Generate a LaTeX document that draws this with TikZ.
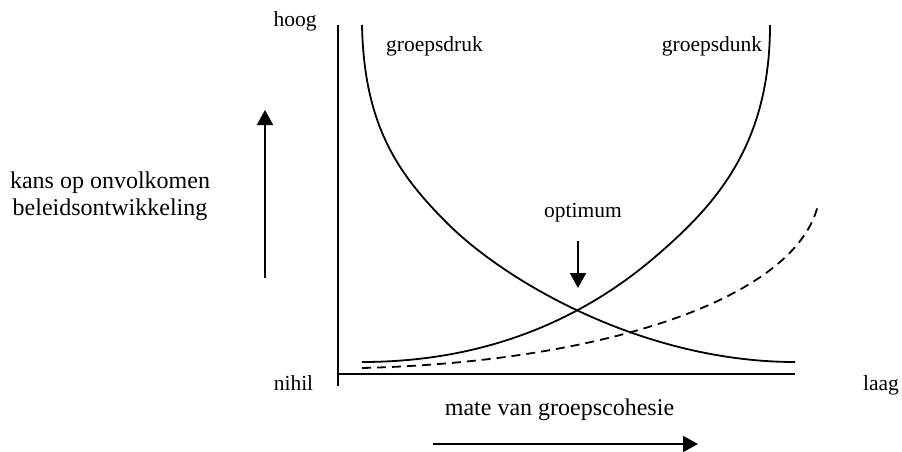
\documentclass[tikz,border=0pt]{standalone}
\usepackage{fontspec}
\setmainfont{Liberation Serif}
\usetikzlibrary{arrows.meta}
\begin{document}
\begin{tikzpicture}[x=1pt,y=-1pt,
  lbl/.style={inner sep=0pt,anchor=base,font=\fontsize{21.5}{26}\selectfont},
  biglbl/.style={inner sep=0pt,anchor=base,font=\fontsize{24}{27}\selectfont},
  axisline/.style={line width=1.8pt},
  curve/.style={line width=1.8pt},
  dashcurve/.style={line width=1.8pt,dash pattern=on 9pt off 6pt},
  bigarrow/.style={line width=1.8pt,-{Triangle[length=15pt,width=16pt]}}]
\useasboundingbox (0,0) rectangle (902,452);
% axes
\coordinate (ytop) at (338,25);
\coordinate (ybot) at (338,386);
\coordinate (xl) at (338,374);
\coordinate (xr) at (795,374);
\draw[axisline] (ytop) -- (ybot);
\draw[axisline] (xl) -- (xr);
% labels
\node[lbl] (hoog) at (295,27) {hoog};
\node[lbl] (nihil) at (293.5,390) {nihil};
\node[lbl] (laag) at (881,390) {laag};
\node[lbl] (druk) at (434.5,52) {groepsdruk};
\node[lbl] (dunk) at (712,52) {groepsdunk};
\node[lbl] (opt) at (583,217) {optimum};
\node[biglbl] (kans) at (110,188) {kans op onvolkomen};
\node[biglbl] (beleid) at (110,215) {beleidsontwikkeling};
\node[biglbl] (mate) at (559.5,415) {mate van groepscohesie};
% groepsdruk
\coordinate (d0) at (362,25);
\coordinate (dm) at (447,223);
\coordinate (d3) at (795,362);
\draw[curve] (d0) .. controls (364,125) and (397.5,173.5) .. (dm)
  .. controls (507,283) and (645,362) .. (d3);
% groepsdunk
\coordinate (u0) at (362,362);
\coordinate (um) at (655,257);
\coordinate (u3) at (770,25);
\draw[curve] (u0) .. controls (482,362) and (579,322) .. (um)
  .. controls (715.8,205) and (770,145) .. (u3);
% dashed
\coordinate (s0) at (362,368);
\coordinate (s3) at (818,205);
\draw[dashcurve] (s0) .. controls (600,362) and (795,300) .. (s3);
% arrows
\coordinate (la0) at (265,278);
\coordinate (la1) at (265,110);
\draw[bigarrow] (la0) -- (la1);
\coordinate (oa0) at (578,241);
\coordinate (oa1) at (578,288);
\draw[bigarrow] (oa0) -- (oa1);
\coordinate (ba0) at (433,444);
\coordinate (ba1) at (698,444);
\draw[bigarrow] (ba0) -- (ba1);
\end{tikzpicture}
\end{document}
